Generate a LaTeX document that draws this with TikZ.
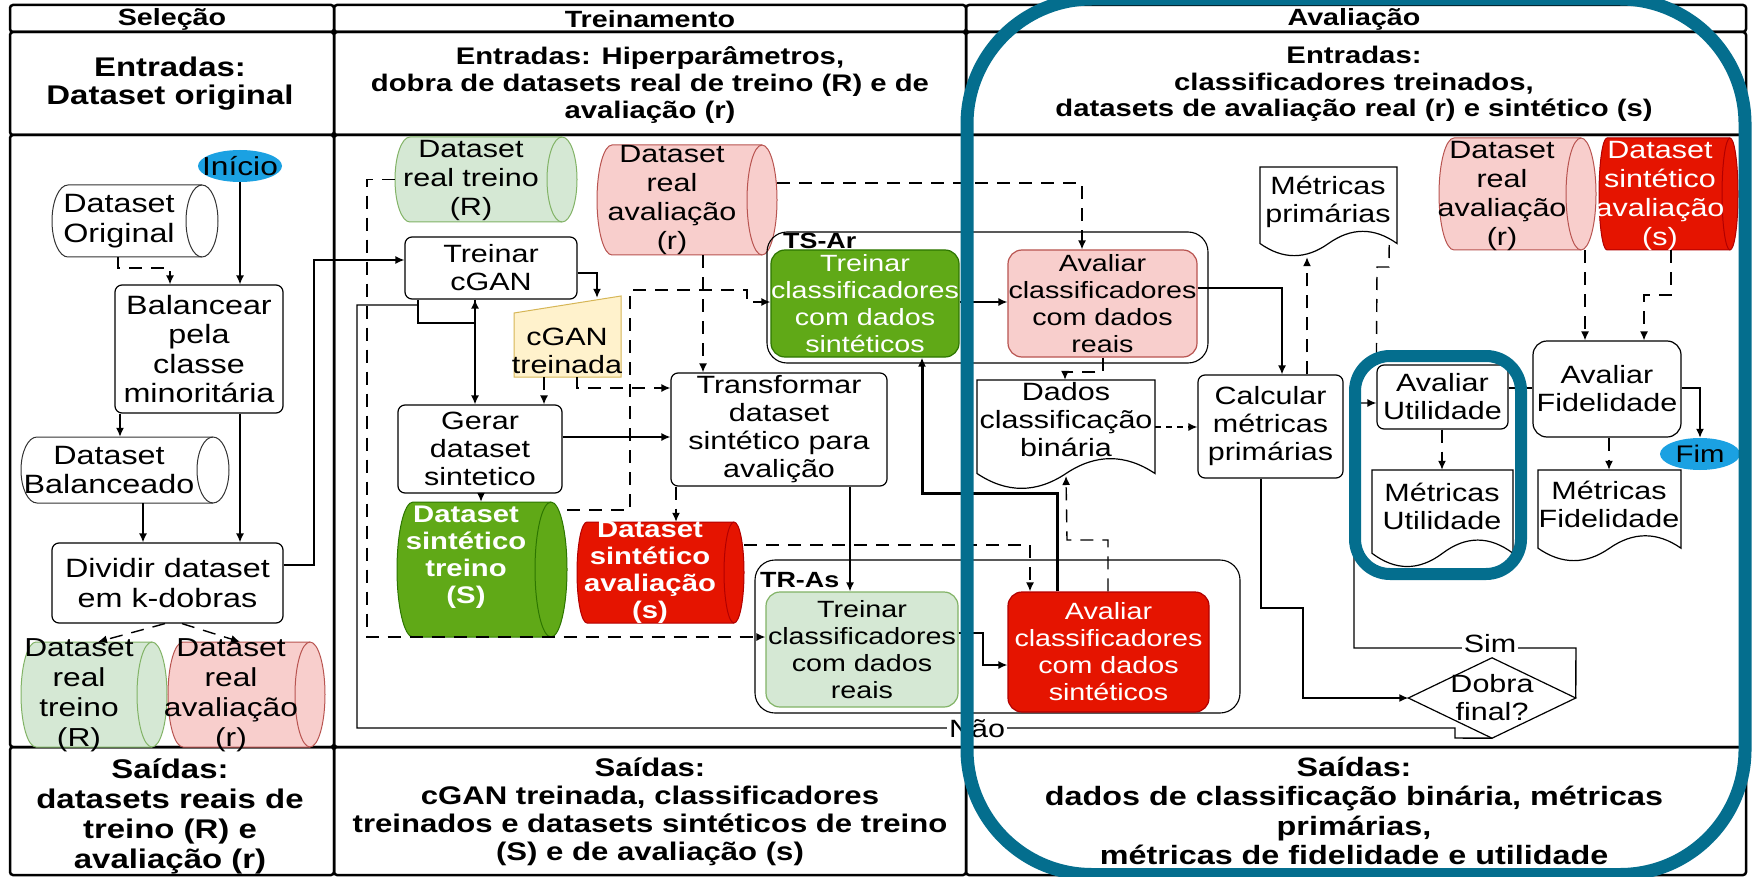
\documentclass[tikz,border=0pt]{standalone}
\usepackage{fontspec}
\setmainfont{Liberation Sans}[FakeStretch=1.22]
\usetikzlibrary{arrows.meta,calc}
\definecolor{hlc}{RGB}{4,110,142}
\definecolor{lgfill}{HTML}{D5E8D4}\definecolor{lgdraw}{HTML}{82B366}
\definecolor{pkfill}{HTML}{F8CECC}\definecolor{pkdraw}{HTML}{B85450}
\definecolor{dgfill}{HTML}{60A917}\definecolor{dgdraw}{HTML}{2D7600}
\definecolor{rdfill}{HTML}{E51400}\definecolor{rddraw}{HTML}{B20000}
\definecolor{ylfill}{HTML}{FFF2CC}\definecolor{yldraw}{HTML}{D6B656}
\definecolor{blfill}{HTML}{1BA1E2}
\newcommand\fa{\fontsize{25}{28}\selectfont}
\newcommand\fb{\fontsize{23.5}{27}\selectfont}
\newcommand\fc{\fontsize{26.5}{29.5}\selectfont}
\newcommand\ft{\fontsize{23.5}{26}\selectfont\bfseries}
% cylinder lying on its side: name x1 y1 x2 y2 rx style
\newcommand\cylshape[7]{%
 \path[#7] ({#4-#6},#3) -- ({#2+#6},#3) arc[start angle=270,end angle=90,x radius=#6,y radius={(#5-#3)/2}] -- ({#4-#6},#5) arc[start angle=90,end angle=-90,x radius=#6,y radius={(#5-#3)/2}] -- cycle;
 \draw[#7,fill=none] ({#4-#6},#3) arc[start angle=270,end angle=90,x radius=#6,y radius={(#5-#3)/2}];
 \node[minimum width={#4-#2},minimum height={#5-#3}] (#1) at ({(#2+#4)/2},{(#3+#5)/2}) {};}
% document shape: name x1 y1 x2 y2
\newcommand\docshape[5]{%
 \draw[docs] (#2,#3) -- (#4,#3) -- (#4,{#3+0.85*(#5-#3)})
  .. controls ({#2+0.8333*(#4-#2)},{#3+0.67*(#5-#3)}) and ({#2+0.6667*(#4-#2)},{#3+0.67*(#5-#3)}) .. ({#2+0.5*(#4-#2)},{#3+0.85*(#5-#3)})
  .. controls ({#2+0.3333*(#4-#2)},{#3+1.03*(#5-#3)}) and ({#2+0.1667*(#4-#2)},{#3+1.03*(#5-#3)}) .. (#2,{#3+0.85*(#5-#3)}) -- cycle;
 \node[minimum width={#4-#2},minimum height={#5-#3}] (#1) at ({(#2+#4)/2},{(#3+#5)/2}) {};}
\begin{document}
\begin{tikzpicture}[x=1pt,y=-1pt,
  every node/.style={inner sep=0pt,align=center},
  box/.style={draw,line width=1.2pt,rounded corners=7pt,fill=white,font=\fa},
  cbox/.style={draw,line width=1.2pt,rounded corners=14pt,font=\fb},
  docs/.style={draw,line width=1.2pt,fill=white},
  frm/.style={draw,line width=2.5pt,rounded corners=3pt},
  line/.style={line width=1.4pt},
  con/.style={line width=1.4pt,-{Latex[length=9pt,width=8pt]}},
  dcon/.style={con,dash pattern=on 13pt off 9pt},
  lbl/.style={fill=white,inner sep=2pt,font=\fa}]
\useasboundingbox (0,0) rectangle (1752,877);
\clip (0,0) rectangle (1752,877);
\fill[white] (0,0) rectangle (1752,877);

% frame
\foreach \xa/\xb in {10/334,334/966,966/1746}{
 \draw[frm] (\xa,5) rectangle (\xb,32);
 \draw[frm] (\xa,32) rectangle (\xb,135);
 \draw[frm] (\xa,135) rectangle (\xb,747);
 \draw[frm] (\xa,747) rectangle (\xb,875);}

\node[font=\ft] (t1) at (172,19) {Seleção};
\node[font=\ft] (t2) at (650,19) {Treinamento};
\node[font=\ft] (t3) at (1354,19) {Avaliação};

\node[font=\fontsize{27}{28}\selectfont\bfseries] (e1) at (170,84) {Entradas:\\Dataset original};
\node[font=\fontsize{24}{27}\selectfont\bfseries] (e2) at (650,85) {Entradas: Hiperparâmetros,\\dobra de datasets real de treino (R) e de\\avaliação (r)};
\node[font=\fontsize{24}{26.7}\selectfont\bfseries] (e3) at (1354,84) {Entradas:\\classificadores treinados,\\datasets de avaliação real (r) e sintético (s)};

\node[font=\fontsize{27}{30}\selectfont\bfseries] (s1) at (170,816) {Saídas:\\datasets reais de\\treino (R) e\\avaliação (r)};
\node[font=\fontsize{25.5}{28}\selectfont\bfseries] (s2) at (650,812) {Saídas:\\cGAN treinada, classificadores\\treinados e datasets sintéticos de treino\\(S) e de avaliação (s)};
\node[font=\fontsize{26.5}{29.5}\selectfont\bfseries] (s3) at (1354,811) {Saídas:\\dados de classificação binária, métricas\\primárias,\\métricas de fidelidade e utilidade};

% ---------- Seleção ----------
\fill[blfill] (240,166) ellipse[x radius=42,y radius=16];
\node[font=\fontsize{26}{28}\selectfont,minimum width=84,minimum height=32] (inicio) at (240,166) {Início};
\cylshape{dsorig}{52}{185}{218}{257}{16}{fill=white,draw=black!80,line width=1pt}
\node[font=\fc] (dsorigt) at (119,221) {Dataset\\Original};
\node[box,font=\fc,minimum width=168,minimum height=128] (bal) at (199,349) {Balancear\\pela\\classe\\minoritária};
\cylshape{dsbal}{21}{437}{229}{503}{16}{fill=white,draw=black!80,line width=1pt}
\node[font=\fc] (dsbalt) at (109,470) {Dataset\\Balanceado};
\node[box,font=\fc,minimum width=231,minimum height=80] (div) at (167.5,583) {Dividir dataset\\em k-dobras};
\cylshape{rtr}{21}{642}{167}{747}{15}{fill=lgfill,draw=lgdraw,line width=1pt}
\cylshape{rev}{168}{642}{325}{747}{15}{fill=pkfill,draw=pkdraw,line width=1pt}

\draw[con] (inicio.south) -- (inicio.south |- bal.north);
\draw[dcon] (dsorig.south -| 118,0) -- (118,268) -| (bal.north -| 170,0);
\draw[con] (bal.south -| 120,0) -- (dsbal.north -| 120,0);
\draw[con] (bal.south -| 240,0) -- (div.north -| 240,0);
\draw[con] (dsbal.south -| 143,0) -- (div.north -| 143,0);
\draw[dcon] (div.south -| 165,0) -- (rtr.north -| 98,0);
\draw[dcon] (div.south -| 182,0) -- (rev.north -| 240,0);
\node[font=\fontsize{26}{30}\selectfont] (rtrt) at (79,695) {Dataset\\real\\treino\\(R)};
\node[font=\fontsize{26}{30}\selectfont] (revt) at (231,695) {Dataset\\real\\avaliação\\(r)};

% ---------- Treinamento ----------
\cylshape{rtr2}{395}{137}{577}{222}{15}{fill=lgfill,draw=lgdraw,line width=1pt}
\node[font=\fontsize{25}{29}\selectfont] (rtr2t) at (471,180) {Dataset\\real treino\\(R)};
\cylshape{rev2}{597}{145}{777}{255}{15}{fill=pkfill,draw=pkdraw,line width=1pt}
\node[font=\fontsize{25}{28.7}\selectfont] (rev2t) at (672,200) {Dataset\\real\\avaliação\\(r)};
\node[box,minimum width=172,minimum height=62] (trcg) at (491,268) {Treinar\\cGAN};
\filldraw[fill=ylfill,draw=yldraw,line width=1pt] (514,313) -- (621,296) -- (621,377) -- (514,377) -- cycle;
\node[minimum width=107,minimum height=79] (cgt) at (567.5,337.5) {};
\node[font=\fa] (cgtt) at (567,351) {cGAN\\treinada};
\node[box,minimum width=164,minimum height=88] (ger) at (480,449) {Gerar\\dataset\\sintetico};
\node[box,minimum width=216,minimum height=113] (tra) at (779,429.5) {Transformar\\dataset\\sintético para\\avalição};
\cylshape{sst}{397}{502}{567}{637}{16}{fill=dgfill,draw=dgdraw,line width=1pt}
\node[font=\fontsize{24}{27}\selectfont\bfseries,text=white] (sstt) at (466,557) {Dataset\\sintético\\treino\\(S)};
\cylshape{ssa}{577}{522}{744}{623}{10}{fill=rdfill,draw=rddraw,line width=1pt}
\node[font=\fontsize{24}{27}\selectfont\bfseries,text=white] (ssat) at (650,572) {Dataset\\sintético\\avaliação\\(s)};

\node[draw,line width=1.1pt,rounded corners=20pt,minimum width=441,minimum height=131] (tsarc) at (987.5,297.5) {};
\node[draw,line width=1.1pt,rounded corners=20pt,minimum width=485,minimum height=153] (trasc) at (997.5,636.5) {};
\node[font=\fontsize{22}{24}\selectfont\bfseries,anchor=west] (tsarl) at (783,241) {TS-Ar};
\node[font=\fontsize{22}{24}\selectfont\bfseries,anchor=west] (trasl) at (760,580) {TR-As};
\node[cbox,fill=dgfill,draw=dgdraw,text=white,minimum width=186,minimum height=107] (tcs) at (865,303.5) {Treinar\\classificadores\\com dados\\sintéticos};
\node[cbox,fill=pkfill,draw=pkdraw,minimum width=189,minimum height=107] (arr) at (1102.5,303.5) {Avaliar\\classificadores\\com dados\\reais};
\node[cbox,fill=lgfill,draw=lgdraw,minimum width=192,minimum height=115] (tcr) at (862,649.5) {Treinar\\classificadores\\com dados\\reais};
\node[cbox,fill=rdfill,draw=rddraw,text=white,minimum width=201,minimum height=120] (asn) at (1108.5,652) {Avaliar\\classificadores\\com dados\\sintéticos};

% ---------- Avaliação ----------
\docshape{mp}{1260}{167}{1397}{257}
\node[font=\fa] (mpt) at (1328,202) {Métricas\\primárias};
\cylshape{rev3}{1439}{138}{1596}{250}{15}{fill=pkfill,draw=pkdraw,line width=1pt}
\node[font=\fontsize{25}{29}\selectfont] (rev3t) at (1502,196) {Dataset\\real\\avaliação\\(r)};
\cylshape{ssa3}{1599}{138}{1738}{250}{8}{fill=rdfill,draw=rddraw,line width=1pt}
\node[font=\fontsize{25}{29}\selectfont,text=white] (ssa3t) at (1660,196) {Dataset\\sintético\\avaliação\\(s)};
\docshape{dcb}{977}{380}{1155}{490}
\node[font=\fa] (dcbt) at (1066,420) {Dados\\classificação\\binária};
\node[box,minimum width=145,minimum height=103] (calc) at (1270.5,426.5) {Calcular\\métricas\\primárias};
\node[box,minimum width=131,minimum height=64] (au) at (1442.5,397) {Avaliar\\Utilidade};
\node[box,rounded corners=14pt,minimum width=148,minimum height=96] (af) at (1607,389) {Avaliar\\Fidelidade};
\fill[blfill] (1700,454) ellipse[x radius=40,y radius=16];
\node[font=\fontsize{24}{26}\selectfont,minimum width=80,minimum height=32] (fim) at (1700,454) {Fim};
\docshape{mu}{1372}{470}{1513}{568}
\node[font=\fa] (mut) at (1442,506) {Métricas\\Utilidade};
\docshape{mf}{1538}{470}{1681}{562}
\node[font=\fa] (mft) at (1609,504) {Métricas\\Fidelidade};
\node[minimum width=167,minimum height=80] (dobra) at (1492,698) {};
\draw[line width=1.2pt,fill=white] (dobra.north) -- (dobra.east) -- (dobra.south) -- (dobra.west) -- cycle;
\node[font=\fa] (dobrat) at (1492,698) {Dobra\\final?};

% ---------- connectors: Treinamento ----------
\draw[con] (div.east |- 0,565) -- (314,565) -- (314,260) -- (trcg.west |- 0,260);
\draw[dcon] (rtr2.west) -- (367,179.5) -- (367,637) -- (tcr.west |- 0,637);
\draw[con] (trcg.south -| 418,0) -- (418,323) -| (trcg.south -| 475,0);
\draw[con] (trcg.south -| 475,0) -- (ger.north -| 475,0);
\draw[con] (trcg.east |- 0,273) -- (597,273) -- (cgt.north -| 597,0);
\draw[line] (dobra.south) -- (1455,738) -- (1455,728) -- (357,728) -- (357,305) -- (418,305);
\node[lbl] (nao) at (977,729) {Não};
\draw[dcon] (rev2.south -| 703,0) -- (tra.north -| 703,0);
\draw[dcon] (sst.east |- 0,510) -- (630,510) -- (630,290) -- (747,290) -- (747,302) -- (tcs.west |- 0,302);
\draw[dcon] (cgt.south -| 544,0) -- (ger.north -| 544,0);
\draw[dcon] (cgt.south -| 577,0) -- (577,388) -- (tra.west |- 0,388);
\draw[con] (ger.east |- 0,437) -- (tra.west |- 0,437);
\draw[con] (ger.south -| 481,0) -- (sst.north -| 481,0);
\draw[dcon] (tra.south -| 676,0) -- (ssa.north -| 676,0);
\draw[con] (tra.south -| 850,0) -- (tcr.north -| 850,0);
\draw[dcon] (ssa.east |- 0,545) -- (1030,545) -- (asn.north -| 1030,0);
\draw[con] (tcr.east |- 0,633) -- (983,633) -- (983,665) -- (asn.west |- 0,665);
\draw[con,line width=3pt] (asn.north -| 1057,0) -- (1057,493) -- (922,493) -- (tcs.south -| 922,0);
\draw[dcon] (asn.north -| 1108,0) -- (1108,540) -- (1067,540) -- (dcb.center |- 0,476);
\draw[con] (tcs.east |- 0,302) -- (arr.west |- 0,302);
\draw[dcon] (rev2.east |- 0,183) -- (1082,183) -- (arr.north -| 1082,0);

% ---------- connectors: Avaliação ----------
\draw[dcon] (arr.south -| 1103,0) -- (1103,372) -- (1065,372) -- (dcb.north -| 1065,0);
\draw[con] (arr.east |- 0,288) -- (1282,288) -- (calc.north -| 1282,0);
\draw[dcon,dash pattern=on 6pt off 5pt] (dcb.east |- 0,427) -- (calc.west |- 0,427);
\draw[dcon] (calc.north -| 1307,0) -- (mp.south -| 1307,0);
\draw[dcon] ([xshift=-8pt]mp.east |- 0,245) -- (1389,267) -- (1377,267) -- (au.north west);
\draw[dcon] (au.south -| 1442,0) -- (mu.north -| 1442,0);
\draw[line] (au.east |- 0,388) -- (af.west |- 0,388);
\draw[con] (af.east |- 0,388) -- (1700,388) -- (fim.north);
\draw[dcon] (af.south -| 1609,0) -- (mf.north -| 1609,0);
\draw[dcon] (rev3.south -| 1585,0) -- (af.north -| 1585,0);
\draw[dcon] (ssa3.south -| 1671,0) -- (1671,295) -- (1644,295) -- (af.north -| 1644,0);
\draw[con] (calc.south -| 1261,0) -- (1261,608) -- (1303,608) -- (1303,698) -- (dobra.west);
\draw[con] (dobra.east) -- (1576,648) -- (1354,648) -- (1354,403) -- (au.west |- 0,403);
\node[lbl] (sim) at (1490,644) {Sim};

% ---------- highlights ----------
\draw[draw=hlc,line width=13pt,rounded corners=125pt] (967,-1) rectangle (1745,874.5);
\draw[draw=hlc,line width=12pt,rounded corners=35pt] (1355,356) rectangle (1521,574);
\end{tikzpicture}
\end{document}
